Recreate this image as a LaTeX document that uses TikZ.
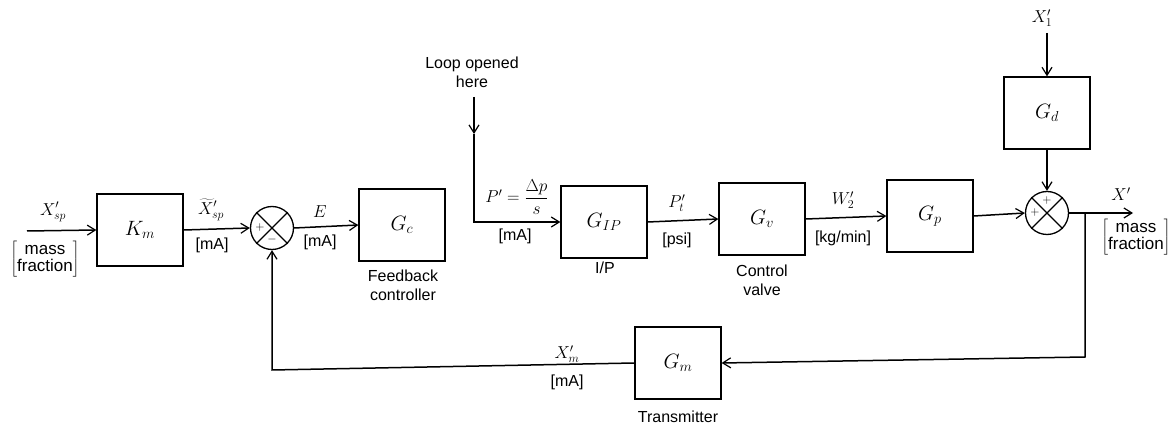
\documentclass[tikz,border=0pt]{standalone}
\usepackage{fontspec}
\setsansfont{Liberation Sans}
\usetikzlibrary{arrows.meta}
\begin{document}
\begin{tikzpicture}[x=1pt,y=-1pt,
  line width=1.5pt,
  >={Straight Barb[length=8pt,width=10pt,line width=1.2pt]},
  blk/.style={draw, line width=1.3pt, minimum width=86pt, minimum height=72pt, inner sep=0pt, font=\fontsize{20}{24}\selectfont},
  sumc/.style={draw, circle, line width=1.3pt, minimum size=43pt, inner sep=0pt},
  lbl/.style={font=\fontsize{17}{20}\selectfont, inner sep=1pt},
  txt/.style={font=\sffamily\fontsize{16}{19}\selectfont, align=center, inner sep=1pt},
  sgn/.style={font=\fontsize{13}{13}\selectfont, inner sep=0pt},
  cross/.style={line width=1.1pt}
]
\useasboundingbox (0,0) rectangle (1176,427);

% blocks
\node[blk] (km)  at (140,230) {$K_m$};
\node[sumc] (s1) at (272,228) {};
\node[blk] (gc)  at (402,225) {$G_c$};
\node[blk] (gip) at (604,222) {$G_{IP}$};
\node[blk] (gv)  at (762,219) {$G_v$};
\node[blk] (gp)  at (930,216) {$G_p$};
\node[sumc] (s2) at (1047,213) {};
\node[blk] (gd)  at (1047,113) {$G_d$};
\node[blk] (gm)  at (678,363) {$G_m$};

% crosses in summing junctions
\draw[cross] (s1.north west) -- (s1.south east) (s1.north east) -- (s1.south west);
\draw[cross] (s2.north west) -- (s2.south east) (s2.north east) -- (s2.south west);
\node[sgn] (s1p) at ([xshift=-12pt]s1.center) {$+$};
\node[sgn] (s1m) at ([yshift=-12pt]s1.center) {$-$};
\node[sgn] (s2p) at ([xshift=-12pt]s2.center) {$+$};
\node[sgn] (s2t) at ([yshift=12pt]s2.center) {$+$};

% coordinates
\coordinate (in) at (27,231);
\coordinate (lo) at (474,97);
\coordinate (lm) at (474,134);
\coordinate (lc) at (474,222);
\coordinate (x1) at (1047,33);
\coordinate (out) at (1133,213);
\coordinate (jr) at (1085,213);
\coordinate (jb) at (1085,357);
\coordinate (jl) at (272,370);

% connectors
\draw[->] (in) -- (km.west);
\draw[->] (km.east) -- (s1.west);
\draw[->] (s1.east) -- (gc.west);
\draw[->] (lo) -- (lm);
\draw[->] (lm) -- (lc) -- (gip.west);
\draw[->] (gip.east) -- (gv.west);
\draw[->] (gv.east) -- (gp.west);
\draw[->] (gp.east) -- (s2.west);
\draw[->] (x1) -- (gd.north);
\draw[->] (gd.south) -- (s2.north);
\draw[->] (s2.east) -- (out);
\draw[->] (jr) -- (jb) -- (gm.east);
\draw[->] (gm.west) -- (jl) -- (s1.south);

% labels
\node[lbl] (lxsp) at (53,212) {$X'_{sp}$};
\node[lbl] (lmf1) at (45,259) {$\left[\begin{tabular}{@{}c@{}}\sffamily mass\\[-3pt]\sffamily fraction\end{tabular}\right]$};
\node[lbl] (lxt) at (211,210) {$\widetilde{X}'_{sp}$};
\node[txt] (lma1) at (212,245) {[mA]};
\node[lbl] (le) at (320,212) {$E$};
\node[txt] (lma2) at (320,242) {[mA]};
\node[txt] (lfc) at (403,285) {Feedback\\controller};
\node[txt] (lloop) at (472,72) {Loop opened\\here};
\node[lbl] (lp) at (517,197) {$P'=\displaystyle\frac{\Delta p}{s}$};
\node[txt] (lma3) at (515,236) {[mA]};
\node[txt] (lip) at (605,268) {I/P};
\node[lbl] (lpt) at (677,203) {$P'_t$};
\node[txt] (lpsi) at (677,240) {[psi]};
\node[txt] (lcv) at (762,280) {Control\\valve};
\node[lbl] (lw) at (843,200) {$W'_2$};
\node[txt] (lkg) at (843,238) {[kg/min]};
\node[lbl] (lx1) at (1042,18) {$X'_1$};
\node[lbl] (lx) at (1121,194) {$X'$};
\node[lbl] (lmf2) at (1136,237) {$\left[\begin{tabular}{@{}c@{}}\sffamily mass\\[-3pt]\sffamily fraction\end{tabular}\right]$};
\node[lbl] (lxm) at (567,354) {$X'_m$};
\node[txt] (lma4) at (567,382) {[mA]};
\node[txt] (ltr) at (678,417) {Transmitter};
\end{tikzpicture}
\end{document}
